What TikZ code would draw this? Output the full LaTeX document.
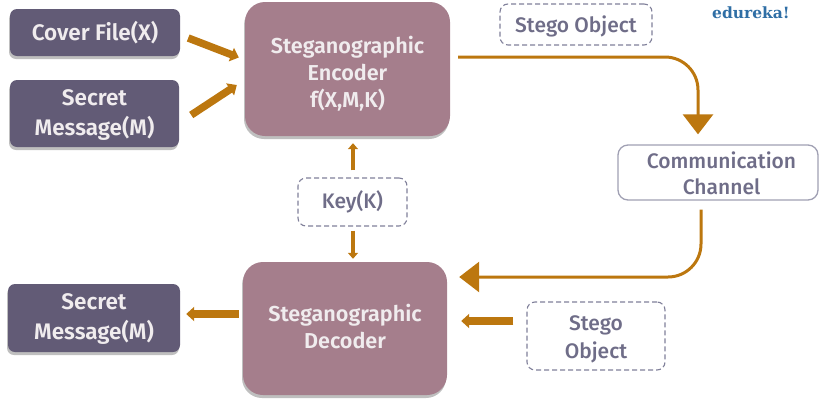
\documentclass[tikz,border=0pt]{standalone}
\usepackage{fontspec}
\setmainfont{Fira Sans Medium}
\newfontfamily\semifam{Fira Sans SemiBold}
\newfontfamily\logofont{DejaVu Serif}
\usetikzlibrary{arrows.meta,shadows,calc}
\newcommand{\dn}[2]{\raisebox{0pt}[\dimexpr\height+#1pt+#1pt\relax]{#2}}
\newcommand{\upw}[2]{\raisebox{0pt}[\height][\dimexpr\depth+#1pt+#1pt\relax]{#2}}
\definecolor{darkbox}{HTML}{625B76}
\definecolor{mauvebox}{HTML}{A57E8C}
\definecolor{flowc}{HTML}{BC770F}
\definecolor{lighttext}{HTML}{F0ECEE}
\definecolor{dashc}{HTML}{80809A}
\definecolor{graytext}{HTML}{6F6D88}
\definecolor{edu}{HTML}{2F6EA5}
\tikzset{
  softshadow/.style={drop shadow={shadow xshift=-1pt,shadow yshift=-3pt,opacity=.25,fill=black}},
  darknode/.style={fill=darkbox,rounded corners=7pt,text=lighttext,align=center,font=\semifam\fontsize{22.5}{30}\selectfont,softshadow,inner sep=0pt},
  mauvenode/.style={fill=mauvebox,rounded corners=20pt,text=lighttext,align=center,font=\semifam\fontsize{21.6}{27}\selectfont,softshadow,inner sep=0pt},
  dashnode/.style={draw=dashc,line width=1.1pt,dash pattern=on 5pt off 3pt,fill=white,rounded corners=8pt,text=graytext,align=center,font=\fontsize{21}{28}\selectfont,inner sep=0pt},
  channode/.style={draw=dashc!75,line width=1.3pt,fill=white,rounded corners=10pt,text=graytext,align=center,font=\fontsize{21}{26}\selectfont,inner sep=0pt},
  thickflow/.style={draw=flowc,line width=7.5pt,-{Triangle[length=8pt,width=14pt]}},
  thinflow/.style={draw=flowc,line width=4.5pt,-{Triangle[length=6pt,width=10pt]}},
  mainflow/.style={draw=flowc,line width=3pt,rounded corners=33pt,-{Triangle[length=20pt,width=30pt]}},
}
\begin{document}
\begin{tikzpicture}[x=1pt,y=-1pt]
\useasboundingbox (0,0) rectangle (825,405);
\node[darknode,minimum width=170pt,minimum height=47pt] (cover) at (95,32.5) {Cover File(X)};
\node[darknode,minimum width=169pt,minimum height=67pt] (secreta) at (94.5,113.5) {\dn{2}{Secret}\\Message(M)};
\node[mauvenode,minimum width=205pt,minimum height=134pt] (encoder) at (347.5,69) {\dn{4.5}{Steganographic}\\Encoder\\f(X,M,K)};
\node[dashnode,minimum width=109pt,minimum height=48pt] (key) at (352.5,202) {Key(K)};
\node[mauvenode,minimum width=204pt,minimum height=133pt] (decoder) at (345,328.5) {Steganographic\\\upw{2}{Decoder}};
\node[darknode,minimum width=172pt,minimum height=68pt] (secretb) at (94,318) {\dn{1}{Secret}\\Message(M)};
\node[dashnode,minimum width=138pt,minimum height=68pt] (stegob) at (596,336) {\dn{3}{Stego}\\Object};
\node[dashnode,minimum width=152pt,minimum height=41pt] (stegoa) at (576,24.5) {\dn{2}{Stego Object}};
\node[channode,minimum width=200pt,minimum height=55pt] (chan) at (718,172.5) {\hspace*{7pt}\dn{1}{Communication}\\\hspace*{7pt}Channel};
\node[font=\logofont\bfseries\fontsize{15.5}{18}\selectfont,text=edu,inner sep=0pt] (logo) at (751,13) {edureka!};
\draw[thickflow] ([shift={(8,5.5)}]cover.east) -- ([shift={(-6,-11.5)}]encoder.west);
\draw[thickflow] ([shift={(12,1.5)}]secreta.east) -- ([shift={(-8,16)}]encoder.west);
\draw[thinflow] ([shift={(0.5,-7)}]key.north) -- ([shift={(5.5,7)}]encoder.south);
\draw[thinflow] ([shift={(0.5,4)}]key.south) -- ([shift={(8,-3)}]decoder.north);
\draw[thickflow] ([shift={(-4,-14.5)}]decoder.west) -- ([shift={(6,-4)}]secretb.east);
\draw[thickflow] ([shift={(-13,-15)}]stegob.west) -- ([shift={(14,-7.5)}]decoder.east);
\draw[mainflow] ([shift={(8,-12)}]encoder.east) -| ([shift={(-20,-10)}]chan.north);
\draw[mainflow] ([shift={(-17,9)}]chan.south) |- ([shift={(12,-51.5)}]decoder.east);
\end{tikzpicture}
\end{document}
